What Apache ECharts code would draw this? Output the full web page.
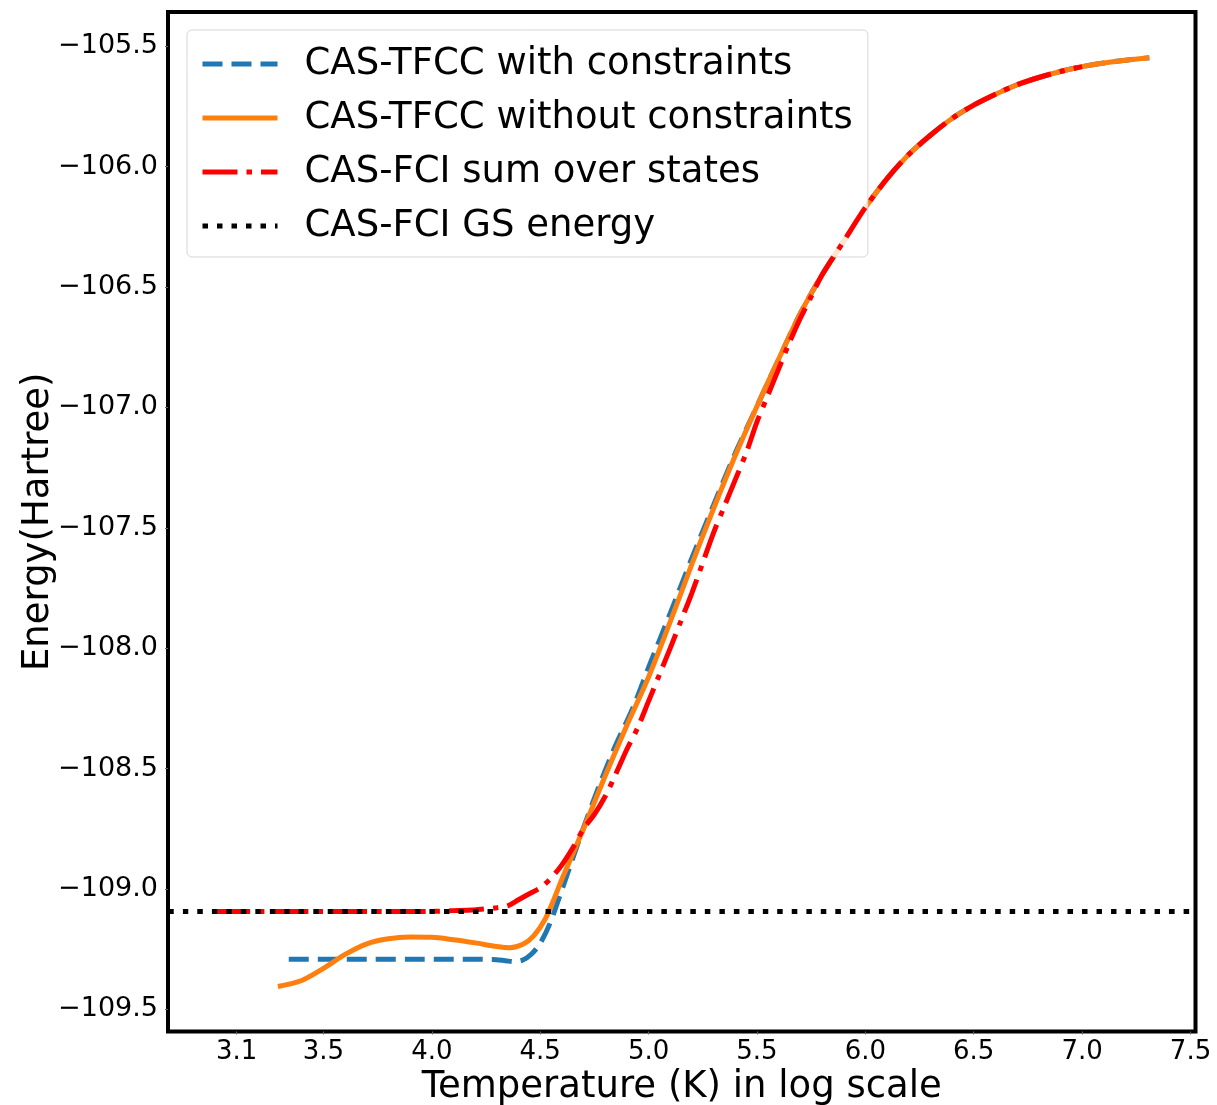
<!DOCTYPE html>
<html>
<head>
<meta charset="utf-8">
<title>Energy vs temperature</title>
<script src="https://cdn.jsdelivr.net/npm/echarts@6/dist/echarts.min.js"></script>
<style>
  html, body { margin: 0; padding: 0; background: #fff; }
  #chart { width: 1217px; height: 1105px; }
</style>
</head>
<body>
<div id="chart"></div>
<script>
// log10(T) and energy in Hartree
const withConsT = [3.34, 3.50, 3.70, 3.90, 4.10, 4.28, 4.34, 4.38, 4.42, 4.46, 4.50, 4.545, 4.59, 4.64, 4.70, 4.76, 4.84, 4.93, 5.00, 5.10, 5.20, 5.30, 5.40, 5.50, 5.60, 5.70, 5.80, 5.90, 6.00, 6.10, 6.20, 6.30, 6.40, 6.50, 6.60, 6.70, 6.80, 6.90, 7.00, 7.10, 7.20, 7.31]
const withConsE = [-109.292, -109.292, -109.292, -109.292, -109.292, -109.293, -109.298, -109.302, -109.295, -109.27, -109.226, -109.143, -109.03, -108.90, -108.745, -108.60, -108.42, -108.243, -108.08, -107.855, -107.625, -107.405, -107.19, -106.995, -106.80, -106.61, -106.45, -106.31, -106.17, -106.05, -105.95, -105.87, -105.80, -105.745, -105.70, -105.66, -105.63, -105.605, -105.585, -105.57, -105.558, -105.548]

const withoutConsT = [3.29, 3.40, 3.50, 3.60, 3.70, 3.80, 3.90, 4.00, 4.10, 4.20, 4.30, 4.36, 4.42, 4.47, 4.52, 4.56, 4.60, 4.70, 4.80, 4.90, 5.00, 5.10, 5.20, 5.30, 5.40, 5.50, 5.60, 5.70, 5.80, 5.90, 6.00, 6.10, 6.20, 6.30, 6.40, 6.50, 6.60, 6.70, 6.80, 6.90, 7.00, 7.10, 7.20, 7.31]
const withoutConsE = [-109.405, -109.38, -109.33, -109.272, -109.228, -109.207, -109.200, -109.201, -109.211, -109.224, -109.239, -109.244, -109.230, -109.195, -109.13, -109.05, -108.96, -108.75, -108.53, -108.32, -108.12, -107.89, -107.65, -107.42, -107.20, -106.995, -106.80, -106.61, -106.45, -106.31, -106.17, -106.05, -105.95, -105.87, -105.80, -105.745, -105.70, -105.66, -105.63, -105.605, -105.585, -105.57, -105.558, -105.548]

const sumStatesT = [3.00, 3.20, 3.40, 3.60, 3.80, 4.00, 4.10, 4.20, 4.30, 4.35, 4.40, 4.45, 4.50, 4.55, 4.60, 4.65, 4.70, 4.75, 4.80, 4.85, 4.90, 4.95, 5.00, 5.05, 5.10, 5.15, 5.20, 5.25, 5.30, 5.35, 5.40, 5.45, 5.50, 5.55, 5.60, 5.65, 5.70, 5.75, 5.80, 5.90, 6.00, 6.10, 6.20, 6.30, 6.40, 6.50, 6.60, 6.70, 6.80, 6.90, 7.00]
const sumStatesE = [-109.094, -109.094, -109.094, -109.094, -109.094, -109.093, -109.090, -109.086, -109.078, -109.07, -109.045, -109.02, -108.995, -108.955, -108.90, -108.83, -108.75, -108.69, -108.615, -108.52, -108.42, -108.33, -108.22, -108.11, -108.00, -107.885, -107.77, -107.645, -107.52, -107.41, -107.30, -107.19, -107.06, -106.95, -106.84, -106.73, -106.63, -106.54, -106.45, -106.31, -106.17, -106.05, -105.95, -105.87, -105.80, -105.745, -105.70, -105.66, -105.63, -105.605, -105.585]

// ground state energy, drawn across the whole axis
const gsT = [2.785, 5.0, 7.52]
const gsE = [-109.094, -109.094, -109.094]

const xTicks = [3.1, 3.5, 4.0, 4.5, 5.0, 5.5, 6.0, 6.5, 7.0, 7.5]
const yTicks = [-109.5, -109.0, -108.5, -108.0, -107.5, -107.0, -106.5, -106.0, -105.5]

const names = ['CAS-TFCC with constraints', 'CAS-TFCC without constraints', 'CAS-FCI sum over states', 'CAS-FCI GS energy']

function zip(xs, ys) {
  return xs.map((x, i) => [x, ys[i]])
}

const font = 'DejaVu Sans'
const chart = echarts.init(document.getElementById('chart'))

function lineSeries(name, xs, ys, color, dash, z) {
  return {
    name,
    type: 'line',
    data: zip(xs, ys),
    symbol: 'none',
    showSymbol: false,
    smooth: 0.3,
    clip: false,
    z,
    lineStyle: { color, width: 5, type: dash, cap: 'butt' },
    itemStyle: { color },
    animation: false
  }
}

chart.setOption({
  backgroundColor: '#fff',
  animation: false,
  grid: {
    left: 168,
    right: 21.5,
    top: 12,
    bottom: 73.5,
    outerBoundsMode: 'none',
    containLabel: false,
    show: true,
    borderColor: '#000',
    borderWidth: 4,
    backgroundColor: 'transparent'
  },
  legend: {
    orient: 'vertical',
    left: 187,
    top: 30,
    padding: [14, 15, 11, 13],
    itemWidth: 75,
    itemHeight: 14,
    itemGap: 14,
    backgroundColor: 'rgba(255,255,255,0.8)',
    borderColor: 'rgba(204,204,204,0.8)',
    borderWidth: 1,
    borderRadius: 5,
    itemStyle: { opacity: 0 },
    lineStyle: { width: 5 },
    data: names,
    textStyle: {
      fontFamily: font,
      fontSize: 37,
      lineHeight: 40,
      color: '#000',
      padding: [0, 0, 0, 22]
    }
  },
  xAxis: {
    type: 'value',
    min: 2.783,
    max: 7.523,
    name: 'Temperature (K) in log scale',
    nameLocation: 'middle',
    nameGap: 37,
    nameMoveOverlap: false,
    nameTextStyle: { fontFamily: font, fontSize: 37, color: '#000' },
    axisLine: { show: false },
    splitLine: { show: false },
    axisTick: { show: true, customValues: xTicks, length: 3, lineStyle: { color: '#666', width: 1 } },
    axisLabel: {
      customValues: xTicks,
      formatter: v => v.toFixed(1),
      fontFamily: font,
      fontSize: 26,
      color: '#000',
      margin: 8
    }
  },
  yAxis: {
    type: 'value',
    min: -109.592,
    max: -105.358,
    name: 'Energy(Hartree)',
    nameLocation: 'middle',
    nameRotate: 90,
    nameGap: 111,
    nameMoveOverlap: false,
    nameTextStyle: { fontFamily: font, fontSize: 37, color: '#000' },
    axisLine: { show: false },
    splitLine: { show: false },
    axisTick: { show: true, customValues: yTicks, length: 3, lineStyle: { color: '#666', width: 1 } },
    axisLabel: {
      customValues: yTicks,
      formatter: v => '\u2212' + Math.abs(v).toFixed(1),
      fontFamily: font,
      fontSize: 27,
      color: '#000',
      margin: 10
    }
  },
  series: [
    lineSeries(names[0], withConsT, withConsE, '#1f77b4', [20, 9], 2),
    lineSeries(names[1], withoutConsT, withoutConsE, '#ff7f0e', 'solid', 3),
    lineSeries(names[2], sumStatesT, sumStatesE, '#ff0000', [35, 9, 5.5, 9], 4),
    lineSeries(names[3], gsT, gsE, '#000000', [5.5, 9], 5)
  ]
})
</script>
</body>
</html>
